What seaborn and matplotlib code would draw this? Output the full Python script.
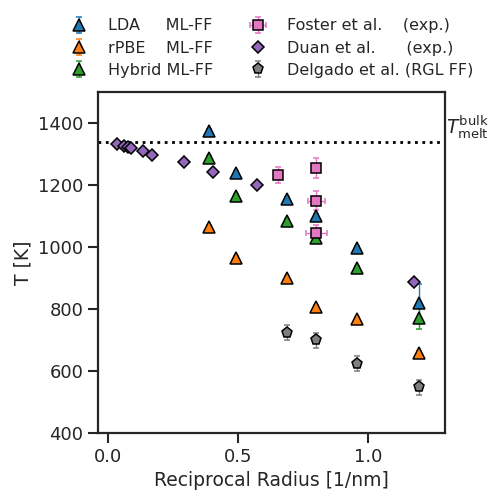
import seaborn as sns
import matplotlib.pyplot as plt
from matplotlib.transforms import blended_transform_factory

sns.set_theme(style="ticks", context="notebook")

# ML-FF results (reciprocal radius in 1/nm, T in K)
x_mlff = [0.387, 0.491, 0.689, 0.801, 0.958, 1.196]
T_lda = [1375, 1240, 1155, 1101, 998, 820]
err_lda = [6, 6, 6, 6, 6, 60]
T_rpbe = [1064, 965, 900, 808, 768, 659]
err_rpbe = [6, 6, 6, 6, 6, 6]
T_hybrid = [1288, 1165, 1084, 1030, 933, 771]
err_hybrid = [6, 6, 6, 6, 6, 35]

# experiments
x_foster = [0.654, 0.801, 0.801, 0.801]
T_foster = [1232, 1254, 1150, 1047]
xerr_foster = [0.0, 0.0, 0.032, 0.041]
yerr_foster = [26, 32, 30, 26]

x_duan = [0.032, 0.060, 0.075, 0.087, 0.132, 0.168, 0.290, 0.402, 0.572, 1.176]
T_duan = [1333, 1326, 1322, 1319, 1310, 1297, 1276, 1243, 1200, 888]

# classical force field
x_delgado = [0.689, 0.801, 0.958, 1.196]
T_delgado = [724, 700, 624, 548]
err_delgado = [24, 24, 24, 24]

T_bulk = 1338

colors = sns.color_palette("tab10")
blue, orange, green, pink, purple, gray = (colors[0], colors[1], colors[2],
                                           colors[6], colors[4], colors[7])

fig, ax = plt.subplots(figsize=(4.9, 4.9), dpi=100)
fig.subplots_adjust(left=0.2, right=0.908, bottom=0.116, top=0.812)

kw = dict(ls="none", mec="black", mew=1.1, capsize=2.5, elinewidth=1, capthick=1)
ax.errorbar(x_mlff, T_lda, yerr=err_lda, fmt="^", ms=8, color=blue, label="LDA     ML-FF", **kw)
ax.errorbar(x_mlff, T_rpbe, yerr=err_rpbe, fmt="^", ms=8, color=orange, label="rPBE    ML-FF", **kw)
ax.errorbar(x_mlff, T_hybrid, yerr=err_hybrid, fmt="^", ms=8, color=green, label="Hybrid ML-FF", **kw)
ax.errorbar(x_foster, T_foster, xerr=xerr_foster, yerr=yerr_foster, fmt="s", ms=7, color=pink,
            label="Foster et al.    (exp.)", **kw)
ax.errorbar(x_duan, T_duan, fmt="D", ms=6, color=purple, label="Duan et al.      (exp.)", **kw)
ax.errorbar(x_delgado, T_delgado, yerr=err_delgado, fmt="p", ms=8, color=gray,
            label="Delgado et al. (RGL FF)", **kw)

ax.axhline(T_bulk, color="black", ls=":", lw=2)
trans = blended_transform_factory(ax.transAxes, ax.transData)
ax.text(1.003, T_bulk + 5, r"$T^{\mathrm{bulk}}_{\mathrm{melt}}$", transform=trans,
        ha="left", va="bottom", fontsize=13.5)

ax.set_xlim(-0.04, 1.296)
ax.set_ylim(400, 1500)
ax.set_xticks([0.0, 0.5, 1.0])
ax.set_yticks([400, 600, 800, 1000, 1200, 1400])
ax.set_xlabel("Reciprocal Radius [1/nm]", fontsize=13.5)
ax.set_ylabel("T [K]", fontsize=13.5)
ax.tick_params(labelsize=13, length=7, width=1.5)
for s in ax.spines.values():
    s.set_linewidth(1.6)

ax.legend(loc="lower center", bbox_to_anchor=(0.49, 1.0), ncol=2, frameon=False,
          fontsize=11.5, handletextpad=0.8, columnspacing=1.8, labelspacing=0.45)

fig.savefig("out.png", dpi=100)
